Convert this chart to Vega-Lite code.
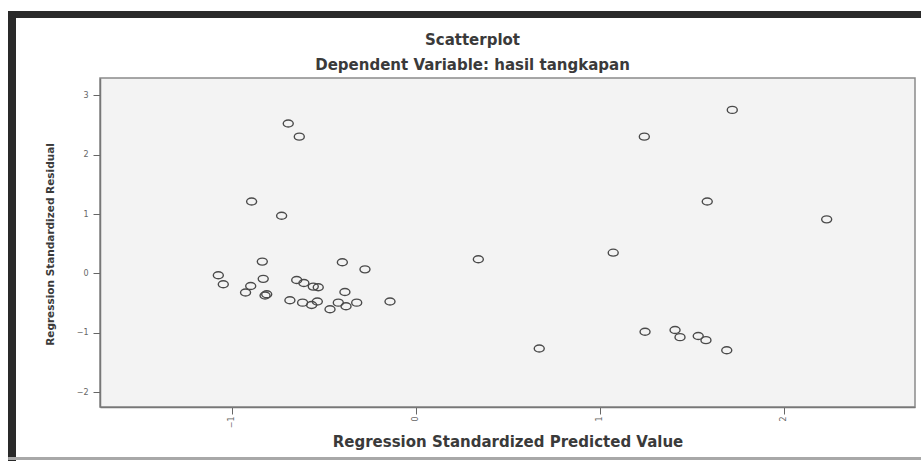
{
  "$schema": "https://vega.github.io/schema/vega-lite/v6.json",
  "width": 815,
  "height": 329,
  "autosize": {"type": "none"},
  "padding": {"left": 100, "top": 78, "right": 6, "bottom": 54},
  "background": "#ffffff",
  "title": {
    "text": "Scatterplot",
    "subtitle": "Dependent Variable: hasil tangkapan",
    "font": "DejaVu Sans",
    "fontSize": 15,
    "fontWeight": "bold",
    "color": "#3a3a3a",
    "subtitleFont": "DejaVu Sans",
    "subtitleFontSize": 15,
    "subtitleFontWeight": "bold",
    "subtitleColor": "#3a3a3a",
    "anchor": "middle",
    "frame": "group",
    "dx": -35,
    "dy": 70,
    "offset": 5,
    "subtitlePadding": 10
  },
  "config": {
    "view": {"fill": "#f3f3f3", "stroke": "#8a8a8a", "strokeWidth": 1.5}
  },
  "data": {
    "values": [
      {"x": -0.694, "y": 2.52}, {"x": -0.634, "y": 2.30}, {"x": -0.893, "y": 1.21}, {"x": -0.730, "y": 0.97},
      {"x": -0.835, "y": 0.20}, {"x": -0.400, "y": 0.19}, {"x": -0.277, "y": 0.07}, {"x": 0.339, "y": 0.24},
      {"x": -1.074, "y": -0.03}, {"x": -1.047, "y": -0.18}, {"x": -0.830, "y": -0.09}, {"x": -0.898, "y": -0.21},
      {"x": -0.926, "y": -0.32}, {"x": -0.811, "y": -0.35}, {"x": -0.820, "y": -0.37}, {"x": -0.648, "y": -0.11},
      {"x": -0.609, "y": -0.16}, {"x": -0.558, "y": -0.22}, {"x": -0.531, "y": -0.23}, {"x": -0.386, "y": -0.31},
      {"x": -0.685, "y": -0.45}, {"x": -0.616, "y": -0.49}, {"x": -0.567, "y": -0.53}, {"x": -0.536, "y": -0.47},
      {"x": -0.467, "y": -0.60}, {"x": -0.422, "y": -0.49}, {"x": -0.380, "y": -0.55}, {"x": -0.322, "y": -0.49},
      {"x": -0.141, "y": -0.47},
      {"x": 1.719, "y": 2.75}, {"x": 1.241, "y": 2.30}, {"x": 1.583, "y": 1.21}, {"x": 2.232, "y": 0.91},
      {"x": 1.072, "y": 0.35}, {"x": 1.245, "y": -0.98}, {"x": 1.408, "y": -0.95}, {"x": 1.435, "y": -1.07},
      {"x": 1.534, "y": -1.05}, {"x": 1.576, "y": -1.12}, {"x": 1.689, "y": -1.29}, {"x": 0.670, "y": -1.26}
    ]
  },
  "layer": [
    {
      "mark": {
        "type": "point",
        "shape": "M-1,0A1,0.7,0,1,0,1,0A1,0.7,0,1,0,-1,0Z",
        "size": 100,
        "filled": false,
        "stroke": "#4a4a4a",
        "strokeWidth": 1.4,
        "opacity": 1
      },
      "encoding": {
        "x": {
          "field": "x",
          "type": "quantitative",
          "scale": {"domain": [-1.717, 2.712], "nice": false, "zero": false},
          "axis": {
            "values": [-1, 0, 1, 2],
            "format": "d",
            "title": "Regression Standardized Predicted Value",
            "titleFont": "DejaVu Sans",
            "titleFontSize": 15,
            "titleFontWeight": "bold",
            "titleColor": "#3a3a3a",
            "titleY": 34,
            "titleBaseline": "middle",
            "labelAngle": 270,
            "labelFontSize": 8,
            "labelColor": "#666666",
            "labelFont": "DejaVu Sans",
            "labelPadding": 2,
            "tickSize": 7,
            "tickColor": "#666666",
            "domainColor": "#777777",
            "domainWidth": 1.5,
            "grid": false
          }
        },
        "y": {
          "field": "y",
          "type": "quantitative",
          "scale": {"domain": [-2.244, 3.286], "nice": false, "zero": false},
          "axis": {
            "values": [-2, -1, 0, 1, 2, 3],
            "format": "d",
            "title": "Regression Standardized Residual",
            "titleFont": "DejaVu Sans",
            "titleFontSize": 10.5,
            "titleFontWeight": "bold",
            "titleColor": "#3a3a3a",
            "titleX": -50,
            "titleY": 166,
            "titleAngle": 270,
            "titleAlign": "center",
            "titleBaseline": "middle",
            "labelFontSize": 8,
            "labelColor": "#666666",
            "labelFont": "DejaVu Sans",
            "labelPadding": 5,
            "tickSize": 7,
            "tickColor": "#666666",
            "domainColor": "#777777",
            "domainWidth": 1.5,
            "grid": false
          }
        }
      }
    },
    {
      "mark": {"type": "rule", "color": "#2a2a2a", "strokeWidth": 7},
      "encoding": {"x": {"datum": -2.212}, "x2": {"datum": 2.745}, "y": {"datum": 4.353}}
    },
    {
      "mark": {"type": "rule", "color": "#2a2a2a", "strokeWidth": 7},
      "encoding": {"x": {"datum": -2.195}, "y": {"datum": 4.41}, "y2": {"datum": -3.152}}
    },
    {
      "mark": {"type": "rule", "color": "#a8a8a8", "strokeWidth": 3},
      "encoding": {"x": {"datum": -2.212}, "x2": {"datum": 2.745}, "y": {"datum": -3.11}}
    }
  ]
}
